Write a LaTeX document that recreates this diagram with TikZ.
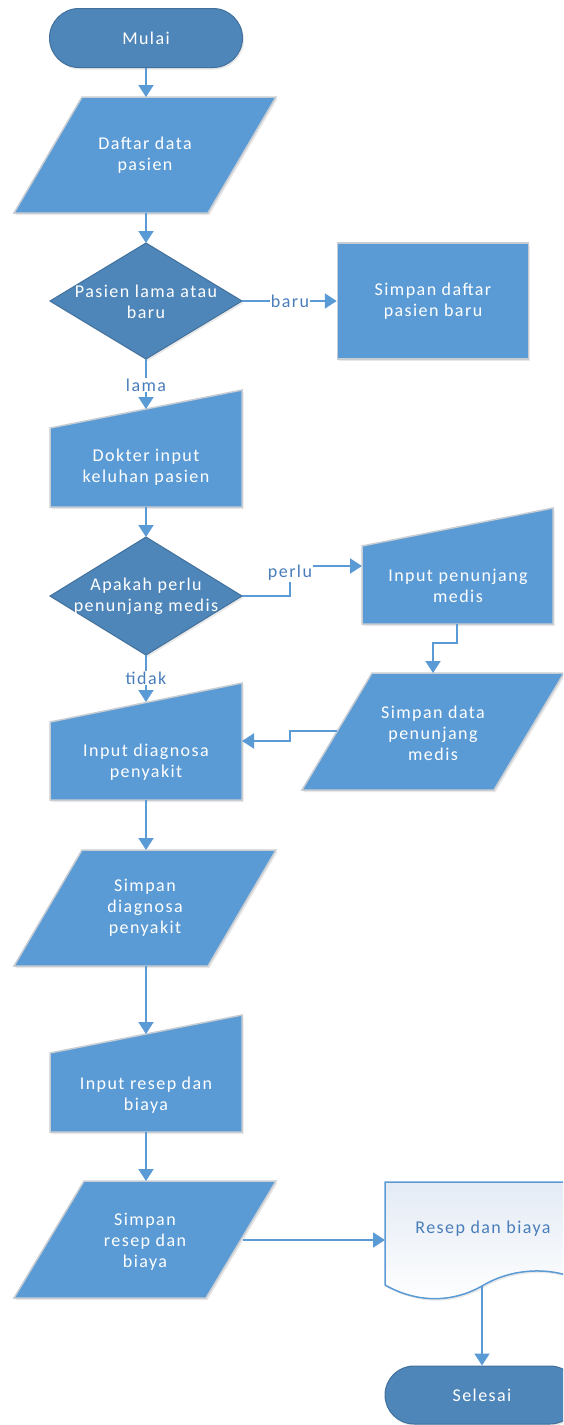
\documentclass[tikz,border=0pt]{standalone}
\usepackage{fontspec}
\setmainfont{Carlito}[LetterSpace=8]
\usetikzlibrary{arrows.meta,shadows,shapes.misc}
\definecolor{procfill}{HTML}{5B9BD5}
\definecolor{procline}{HTML}{C8CDD3}
\definecolor{termfill}{HTML}{4F86B9}
\definecolor{termline}{HTML}{41719C}
\definecolor{connc}{HTML}{5B9BD5}
\definecolor{lblc}{HTML}{4A7EBB}
\definecolor{docfill}{HTML}{E4EBF5}
\newcommand{\fs}{\fontsize{18}{21}\selectfont}
\begin{document}
\begin{tikzpicture}[x=1pt,y=-1pt,
  shad/.style={drop shadow={opacity=0.18,shadow xshift=1.5pt,shadow yshift=-2pt}},
  procbox/.style={fill=procfill,draw=procline,line width=1.5pt,shad},
  decbox/.style={fill=termfill,draw=termline,line width=1pt,shad},
  termbox/.style={rounded rectangle,fill=termfill,draw=termline,line width=1pt,shad,
     text=white,font=\fs,inner sep=0pt},
  txt/.style={text=white,align=center,font=\fs,inner sep=0pt},
  lab/.style={text=lblc,font=\fs,fill=white,inner sep=1pt},
  conn/.style={draw=connc,line width=2pt,-{Triangle[width=15pt,length=12pt]}},
  line/.style={draw=connc,line width=2pt}]
\useasboundingbox (0,0) rectangle (563,1425);
\clip (0,0) rectangle (563,1425);

% ---- shapes ----
\node[termbox,minimum width=193pt,minimum height=59pt] (mulai) at (146,38) {Mulai};

\draw[procbox] (82,97) -- (276,97) -- (208,213) -- (14,213) -- cycle;
\node[txt] (daftar) at (145,155) {Daftar data\\pasien};
\coordinate (daftarN) at (146,97);
\coordinate (daftarS) at (146,213);

\draw[decbox] (146,243) -- (242,301) -- (146,359) -- (50,301) -- cycle;
\node[txt] (tanya1) at (146,302) {Pasien lama atau\\baru};
\coordinate (t1N) at (146,243);
\coordinate (t1E) at (242,301);
\coordinate (t1S) at (146,359);

\node[procbox,minimum width=191pt,minimum height=116pt,txt] (simpanbaru) at (433,301) {Simpan daftar\\pasien baru};

\draw[procbox] (50,428) -- (242,390) -- (242,507) -- (50,507) -- cycle;
\node[txt] (dokter) at (146,467) {Dokter input\\keluhan pasien};
\coordinate (dokterN) at (146,409);
\coordinate (dokterS) at (146,507);

\draw[decbox] (146,537) -- (242,596) -- (146,655) -- (50,596) -- cycle;
\node[txt] (tanya2) at (146,596) {Apakah perlu\\penunjang medis};
\coordinate (t2N) at (146,537);
\coordinate (t2E) at (242,596);
\coordinate (t2S) at (146,655);

\draw[procbox] (362,546) -- (553,508) -- (553,624) -- (362,624) -- cycle;
\node[txt] (penunjang) at (458,586) {Input penunjang\\medis};
\coordinate (penW) at (362,566);
\coordinate (penS) at (457,624);

\draw[procbox] (372,673) -- (564,673) -- (494,790) -- (302,790) -- cycle;
\node[txt] (simpandata) at (433,733) {Simpan data\\penunjang\\medis};
\coordinate (sdN) at (433,673);
\coordinate (sdW) at (337,731);

\draw[procbox] (50,722) -- (242,683) -- (242,800) -- (50,800) -- cycle;
\node[txt] (diagnosa) at (146,762) {Input diagnosa\\penyakit};
\coordinate (diagN) at (146,702);
\coordinate (diagE) at (242,741);
\coordinate (diagS) at (146,800);

\draw[procbox] (82,850) -- (276,850) -- (208,966) -- (14,966) -- cycle;
\node[txt] (simpandiag) at (145,908) {Simpan\\diagnosa\\penyakit};
\coordinate (sdgN) at (146,850);
\coordinate (sdgS) at (146,966);

\draw[procbox] (50,1053) -- (242,1015) -- (242,1132) -- (50,1132) -- cycle;
\node[txt] (resep) at (146,1095) {Input resep dan\\biaya};
\coordinate (resepN) at (146,1034);
\coordinate (resepS) at (146,1132);

\draw[procbox] (84,1181) -- (276,1181) -- (206,1298) -- (14,1298) -- cycle;
\node[txt] (simpanresep) at (145,1242) {Simpan\\resep dan\\biaya};
\coordinate (srN) at (146,1181);
\coordinate (srE) at (243,1240);

\draw[draw=connc,line width=1.5pt,top color=docfill,bottom color=white,shad]
  (385,1182) -- (579,1182) -- (579,1280)
  .. controls (555,1268) and (515,1266) .. (482,1286)
  .. controls (450,1304) and (415,1302) .. (385,1285) -- cycle;
\node[text=lblc,font=\fs,inner sep=0pt] (dok) at (483,1229) {Resep dan biaya};
\coordinate (dokW) at (385,1240);
\coordinate (dokS) at (482,1286);

\node[termbox,minimum width=194pt,minimum height=58pt] (selesai) at (482,1395) {Selesai};

% ---- connectors ----
\draw[conn] (mulai.south) -- (daftarN);
\draw[conn] (daftarS) -- (t1N);
\draw[conn] (t1E) -- (simpanbaru.west);
\node[lab] (lbaru) at (290,301) {baru};
\draw[conn] (t1S) -- (dokterN);
\node[lab] (llama) at (146,385) {lama};
\draw[conn] (dokterS) -- (t2N);
\draw[conn] (t2E) -- (290,596) -- (290,566) -- (penW);
\node[lab] (lperlu) at (290,573) {perlu};
\draw[conn] (penS) -- (457,643) -- (433,643) -- (sdN);
\draw[conn] (sdW) -- (290,731) -- (290,741) -- (diagE);
\draw[conn] (t2S) -- (diagN);
\node[lab] (ltidak) at (146,678) {tidak};
\draw[conn] (diagS) -- (sdgN);
\draw[conn] (sdgS) -- (resepN);
\draw[conn] (resepS) -- (srN);
\draw[conn] (srE) -- (dokW);
\draw[conn] (dokS) -- (selesai.north);
\end{tikzpicture}
\end{document}
